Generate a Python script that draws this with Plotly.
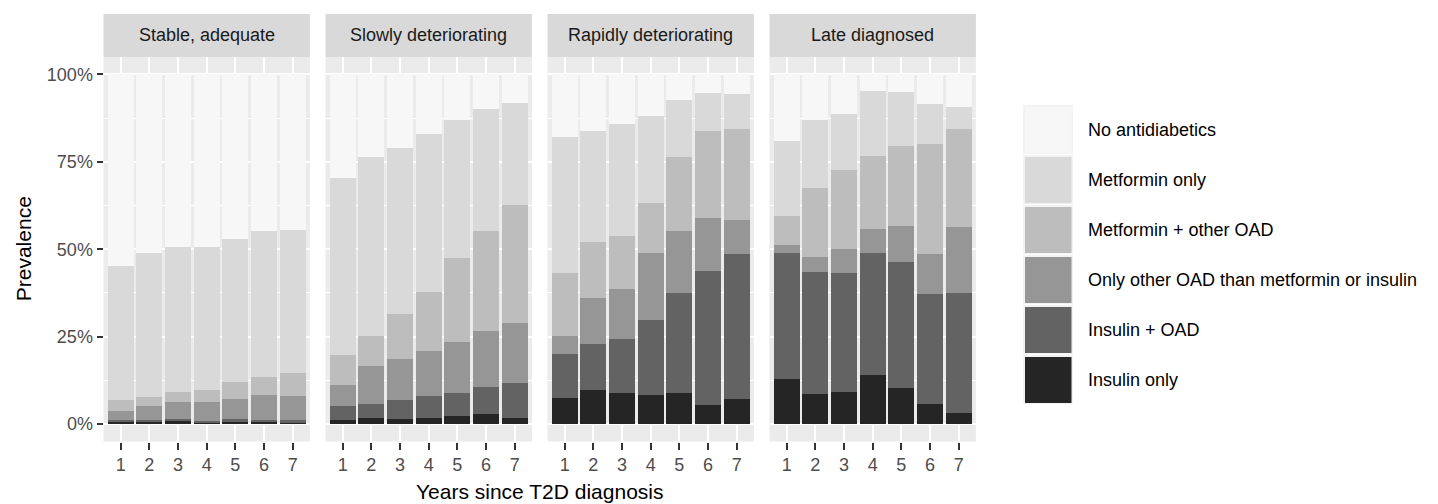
import plotly.graph_objects as go

W, H = 1438, 504

years = [1, 2, 3, 4, 5, 6, 7]
panels = ["Stable, adequate", "Slowly deteriorating", "Rapidly deteriorating", "Late diagnosed"]
categories = ["Insulin only", "Insulin + OAD", "Only other OAD than metformin or insulin",
              "Metformin + other OAD", "Metformin only", "No antidiabetics"]
colors = ["#252525", "#636363", "#969696", "#BDBDBD", "#D9D9D9", "#F7F7F7"]

# percentages per category (bottom -> top) for each panel, years 1..7
stable = {
    "Insulin only":  [0.5, 0.5, 0.8, 0.4, 0.7, 0.6, 0.3],
    "Insulin + OAD": [0.7, 0.7, 0.7, 0.6, 0.8, 0.6, 0.9],
    "Only other OAD than metformin or insulin": [2.4, 4.0, 4.8, 5.3, 5.8, 7.2, 6.9],
    "Metformin + other OAD": [3.4, 2.4, 2.9, 3.5, 4.6, 5.0, 6.5],
    "Metformin only": [38.1, 41.4, 41.4, 40.8, 40.9, 41.7, 41.0],
    "No antidiabetics": [54.9, 51.0, 49.4, 49.4, 47.2, 44.9, 44.4],
}
slowly = {
    "Insulin only":  [1.2, 1.8, 1.5, 1.6, 2.3, 2.8, 1.8],
    "Insulin + OAD": [3.9, 3.9, 5.5, 6.5, 6.7, 7.7, 10.0],
    "Only other OAD than metformin or insulin": [6.2, 11.0, 11.6, 12.8, 14.4, 16.2, 17.0],
    "Metformin + other OAD": [8.5, 8.4, 12.9, 17.0, 24.0, 28.5, 33.8],
    "Metformin only": [50.6, 51.3, 47.6, 45.1, 39.7, 35.0, 29.2],
    "No antidiabetics": [29.6, 23.6, 20.9, 17.0, 12.9, 9.8, 8.2],
}
rapidly = {
    "Insulin only":  [7.5, 9.8, 8.9, 8.4, 8.9, 5.5, 7.2],
    "Insulin + OAD": [12.4, 13.1, 15.4, 21.5, 28.7, 38.4, 41.4],
    "Only other OAD than metformin or insulin": [5.4, 13.1, 14.2, 19.1, 17.5, 15.0, 9.9],
    "Metformin + other OAD": [17.9, 16.2, 15.3, 14.1, 21.2, 24.8, 25.9],
    "Metformin only": [38.9, 31.6, 31.9, 24.9, 16.3, 10.9, 10.0],
    "No antidiabetics": [17.9, 16.2, 14.3, 12.0, 7.4, 5.4, 5.6],
}
late = {
    "Insulin only":  [12.9, 8.7, 9.2, 14.0, 10.3, 5.6, 3.1],
    "Insulin + OAD": [36.1, 34.8, 34.0, 35.0, 36.0, 31.5, 34.4],
    "Only other OAD than metformin or insulin": [2.1, 4.4, 6.9, 6.9, 10.3, 11.5, 18.9],
    "Metformin + other OAD": [8.5, 19.5, 22.7, 20.9, 22.9, 31.6, 28.0],
    "Metformin only": [21.4, 19.7, 15.9, 18.6, 15.4, 11.4, 6.2],
    "No antidiabetics": [19.0, 12.9, 11.3, 4.6, 5.1, 8.4, 9.4],
}
panel_data = [stable, slowly, rapidly, late]

y_ticks = [0, 0.25, 0.5, 0.75, 1.0]
y_ticktext = ["0%", "25%", "50%", "75%", "100%"]

# ---- layout geometry (pixels) ----
panel_left = [103.5, 325.5, 547.5, 769.5]
panel_w = 206.4
panel_top, panel_bot = 57.0, 441.5
strip_top = 14.0

def px(x):
    return x / W

def py(y):
    return 1 - y / H

FONT = "Liberation Sans, Arial, sans-serif"

fig = go.Figure()
layout = dict(
    width=W, height=H,
    margin=dict(l=0, r=0, t=0, b=0),
    paper_bgcolor="white",
    plot_bgcolor="#EBEBEB",
    barmode="stack",
    showlegend=False,
    font=dict(family=FONT, size=18, color="#4D4D4D"),
)

shapes = []
annotations = []

for i, (name, data) in enumerate(zip(panels, panel_data)):
    xa = "x" if i == 0 else f"x{i+1}"
    ya = "y" if i == 0 else f"y{i+1}"
    for cat, col in zip(categories, colors):
        fig.add_trace(go.Bar(
            x=years, y=[v / 100 for v in data[cat]], name=cat,
            marker=dict(color=col, line=dict(width=0)),
            width=0.9, xaxis=xa, yaxis=ya, showlegend=False,
        ))
    L = panel_left[i]
    layout["xaxis" if i == 0 else f"xaxis{i+1}"] = dict(
        domain=[px(L), px(L + panel_w)], anchor=ya,
        range=[0.4, 7.6], tickmode="array", tickvals=years,
        ticktext=[str(v) for v in years],
        showgrid=True, gridcolor="white", gridwidth=2,
        ticks="outside", ticklen=7, tickwidth=2, tickcolor="#333333",
        tickfont=dict(family=FONT, size=18, color="#4D4D4D"),
        zeroline=False, showline=False, fixedrange=True, automargin=False,
    )
    layout["yaxis" if i == 0 else f"yaxis{i+1}"] = dict(
        domain=[py(panel_bot), py(panel_top)], anchor=xa,
        range=[-0.05, 1.05], tickmode="array", tickvals=y_ticks, ticktext=y_ticktext,
        showticklabels=(i == 0),
        ticks="outside" if i == 0 else "", ticklen=6, tickwidth=2, tickcolor="#333333",
        tickfont=dict(family=FONT, size=18, color="#4D4D4D"),
        showgrid=True, gridcolor="white", gridwidth=2,
        minor=dict(tickvals=[0.125, 0.375, 0.625, 0.875], showgrid=True,
                   gridcolor="white", gridwidth=1, ticks=""),
        zeroline=False, showline=False, fixedrange=True, automargin=False,
        **({} if i == 0 else {"matches": "y"}),
    )
    # strip
    shapes.append(dict(type="rect", xref="paper", yref="paper",
                       x0=px(L), x1=px(L + panel_w), y0=py(panel_top), y1=py(strip_top),
                       fillcolor="#D9D9D9", line=dict(width=0), layer="below"))
    annotations.append(dict(text=name, xref="paper", yref="paper",
                            x=px(L + panel_w / 2), y=py((strip_top + panel_top) / 2),
                            showarrow=False, xanchor="center", yanchor="middle",
                            font=dict(family=FONT, size=18, color="#1A1A1A")))

# axis titles
annotations.append(dict(text="Prevalence", xref="paper", yref="paper",
                        x=px(23), y=py((panel_top + panel_bot) / 2), textangle=-90,
                        showarrow=False, xanchor="center", yanchor="middle",
                        font=dict(family=FONT, size=21, color="black")))
annotations.append(dict(text="Years since T2D diagnosis", xref="paper", yref="paper",
                        x=px((panel_left[0] + panel_left[3] + panel_w) / 2), y=py(491),
                        showarrow=False, xanchor="center", yanchor="middle",
                        font=dict(family=FONT, size=21, color="black")))

# legend (top -> bottom: No antidiabetics ... Insulin only)
leg_cats = list(reversed(categories))
leg_cols = list(reversed(colors))
for j, (cat, col) in enumerate(zip(leg_cats, leg_cols)):
    top = 106 + 50 * j
    shapes.append(dict(type="rect", xref="paper", yref="paper",
                       x0=px(1023), x1=px(1073), y0=py(top + 48), y1=py(top - 1),
                       fillcolor="#F2F2F2", line=dict(width=0)))
    shapes.append(dict(type="rect", xref="paper", yref="paper",
                       x0=px(1025), x1=px(1071.5), y0=py(top + 47), y1=py(top + 1),
                       fillcolor=col, line=dict(width=0)))
    annotations.append(dict(text=cat, xref="paper", yref="paper",
                            x=px(1086), y=py(top + 24), showarrow=False,
                            xanchor="left", yanchor="middle",
                            font=dict(family=FONT, size=18, color="black")))

layout["shapes"] = shapes
layout["annotations"] = annotations
fig.update_layout(**layout)
fig.write_html("out.html", config={"displayModeBar": False, "staticPlot": True},
               post_script="document.body.style.margin='0';document.body.style.overflow='hidden';")
